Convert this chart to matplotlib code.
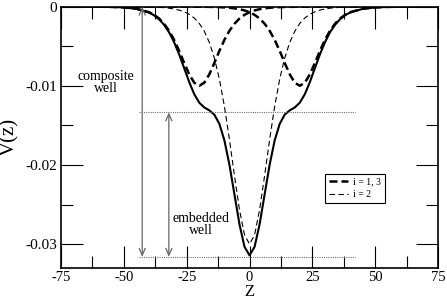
import matplotlib
matplotlib.use("Agg")
import matplotlib.pyplot as plt
from matplotlib.ticker import MultipleLocator, FixedLocator, FixedFormatter

plt.rcParams['font.family'] = ['Liberation Serif', 'DejaVu Serif']
plt.rcParams['axes.unicode_minus'] = False

# z grid (same for every curve)
z = [-75, -70, -65, -60, -55, -50, -45, -40, -38, -36, -34, -32, -30, -28, -26,
     -24, -22, -20, -18, -16, -14, -12, -10, -8, -6, -4, -2, 0, 2, 4, 6, 8, 10,
     12, 14, 16, 18, 20, 22, 24, 26, 28, 30, 32, 34, 36, 38, 40, 45, 50, 55, 60,
     65, 70, 75]

# composite well (solid)
v_total = [-0.000001, -0.000002, -0.000005, -0.000014, -0.000038, -0.000104,
           -0.000281, -0.000747, -0.001096, -0.001595, -0.002295, -0.003249,
           -0.004498, -0.006034, -0.007775, -0.009533, -0.011057, -0.012133,
           -0.012737, -0.013102, -0.013645, -0.014808, -0.016898, -0.019969,
           -0.023727, -0.027497, -0.030345, -0.031414, -0.030345, -0.027497,
           -0.023727, -0.019969, -0.016898, -0.014808, -0.013645, -0.013102,
           -0.012737, -0.012133, -0.011057, -0.009533, -0.007775, -0.006034,
           -0.004498, -0.003249, -0.002295, -0.001595, -0.001096, -0.000747,
           -0.000281, -0.000104, -0.000038, -0.000014, -0.000005, -0.000002,
           -0.000001]

# i = 3 well (centre +20)
v_well3 = [0.0, 0.0, 0.0, 0.0, 0.0, 0.0, 0.0, 0.0, 0.0, 0.0, -0.000001,
           -0.000001, -0.000002, -0.000003, -0.000004, -0.000006, -0.000009,
           -0.000013, -0.000020, -0.000030, -0.000044, -0.000066, -0.000099,
           -0.000147, -0.000218, -0.000324, -0.000479, -0.000707, -0.001036,
           -0.001505, -0.002162, -0.003050, -0.004200, -0.005591, -0.007116,
           -0.008556, -0.009610, -0.010000, -0.009610, -0.008556, -0.007116,
           -0.005591, -0.004200, -0.003050, -0.002162, -0.001505, -0.001036,
           -0.000707, -0.000266, -0.000099, -0.000036, -0.000013, -0.000005,
           -0.000002, -0.000001]

# i = 1 well (centre -20)
v_well1 = [-0.000001, -0.000002, -0.000005, -0.000013, -0.000036, -0.000099,
           -0.000266, -0.000707, -0.001036, -0.001505, -0.002162, -0.003050,
           -0.004200, -0.005591, -0.007116, -0.008556, -0.009610, -0.010000,
           -0.009610, -0.008556, -0.007116, -0.005591, -0.004200, -0.003050,
           -0.002162, -0.001505, -0.001036, -0.000707, -0.000479, -0.000324,
           -0.000218, -0.000147, -0.000099, -0.000066, -0.000044, -0.000030,
           -0.000020, -0.000013, -0.000009, -0.000006, -0.000004, -0.000003,
           -0.000002, -0.000001, -0.000001, 0.0, 0.0, 0.0, 0.0, 0.0, 0.0, 0.0,
           0.0, 0.0, 0.0]

# i = 2 well (centre 0)
v_well2 = [0.0, 0.0, 0.0, -0.000001, -0.000002, -0.000005, -0.000015,
           -0.000040, -0.000060, -0.000090, -0.000133, -0.000199, -0.000296,
           -0.000440, -0.000655, -0.000971, -0.001438, -0.002120, -0.003107,
           -0.004516, -0.006485, -0.009151, -0.012599, -0.016772, -0.021347,
           -0.025668, -0.028830, -0.030000, -0.028830, -0.025668, -0.021347,
           -0.016772, -0.012599, -0.009151, -0.006485, -0.004516, -0.003107,
           -0.002120, -0.001438, -0.000971, -0.000655, -0.000440, -0.000296,
           -0.000199, -0.000133, -0.000090, -0.000060, -0.000040, -0.000015,
           -0.000005, -0.000002, -0.000001, 0.0, 0.0, 0.0]

x_ticks = [-75, -50, -25, 0, 25, 50, 75]
x_labels = ['-75', '-50', '-25', '0', '25', '50', '75']
y_ticks = [-0.03, -0.02, -0.01, 0.0]
y_labels = ['-0.03', '-0.02', '-0.01', '0']

# annotation levels
shoulder = -0.01335
bottom = -0.0316
dot_span = (-44, 42)
arrow_composite = -42.7
arrow_embedded = -32.1

fig = plt.figure(figsize=(4.47, 3.01), dpi=100)
ax = fig.add_axes([0.1365, 0.11, 0.8435, 0.868])

ax.plot(z, v_total, color='black', lw=1.5)
ax.plot(z, v_well1, color='black', lw=1.8, dashes=(3.2, 1.6), label='i = 1, 3')
ax.plot(z, v_well3, color='black', lw=1.8, dashes=(3.2, 1.6))
ax.plot(z, v_well2, color='black', lw=0.8, dashes=(5, 3), label='i = 2')

# dotted guide lines
ax.plot(dot_span, [shoulder, shoulder], color='0.45', lw=0.8, ls=(0, (1, 1)))
ax.plot(dot_span, [bottom, bottom], color='0.45', lw=0.8, ls=(0, (1, 1)))

arrow = dict(arrowstyle='<->,head_length=0.5,head_width=0.22', color='0.4',
             lw=0.9, shrinkA=0, shrinkB=0, mutation_scale=10)
ax.annotate('', xy=(arrow_composite, 0.0), xytext=(arrow_composite, bottom),
            arrowprops=arrow)
ax.annotate('', xy=(arrow_embedded, shoulder), xytext=(arrow_embedded, bottom),
            arrowprops=arrow)

ax.text(-57.2, -0.0096, 'composite\nwell', ha='center', va='center',
        fontsize=10, linespacing=0.9)
ax.text(-19.4, -0.0275, 'embedded\nwell', ha='center', va='center',
        fontsize=10, linespacing=0.9)

ax.set_xlim(-75, 75)
ax.set_ylim(-0.033, 0.0)
ax.xaxis.set_major_locator(FixedLocator(x_ticks))
ax.xaxis.set_major_formatter(FixedFormatter(x_labels))
ax.yaxis.set_major_locator(FixedLocator(y_ticks))
ax.yaxis.set_major_formatter(FixedFormatter(y_labels))
ax.xaxis.set_minor_locator(MultipleLocator(12.5))
ax.yaxis.set_minor_locator(MultipleLocator(0.005))
ax.tick_params(which='both', direction='in', top=True, right=True,
               labelsize=11, pad=3, width=0.8)
ax.tick_params(axis='x', pad=2, labelsize=10.5)
ax.tick_params(which='major', length=16)
ax.tick_params(which='minor', length=8.5)
for s in ax.spines.values():
    s.set_linewidth(1.2)

ax.set_xlabel('Z', fontsize=12)
ax.xaxis.set_label_coords(0.5, -0.063)
ax.set_ylabel('V(z)', fontsize=15, labelpad=4)

leg = ax.legend(loc='upper left', bbox_to_anchor=(0.700, 0.36),
                borderaxespad=0, fontsize=7, handlelength=2.0,
                handletextpad=0.5, borderpad=0.4, labelspacing=0.35,
                fancybox=False, framealpha=1, edgecolor='black')
leg.get_frame().set_linewidth(0.8)

fig.savefig('out.png', dpi=100)
